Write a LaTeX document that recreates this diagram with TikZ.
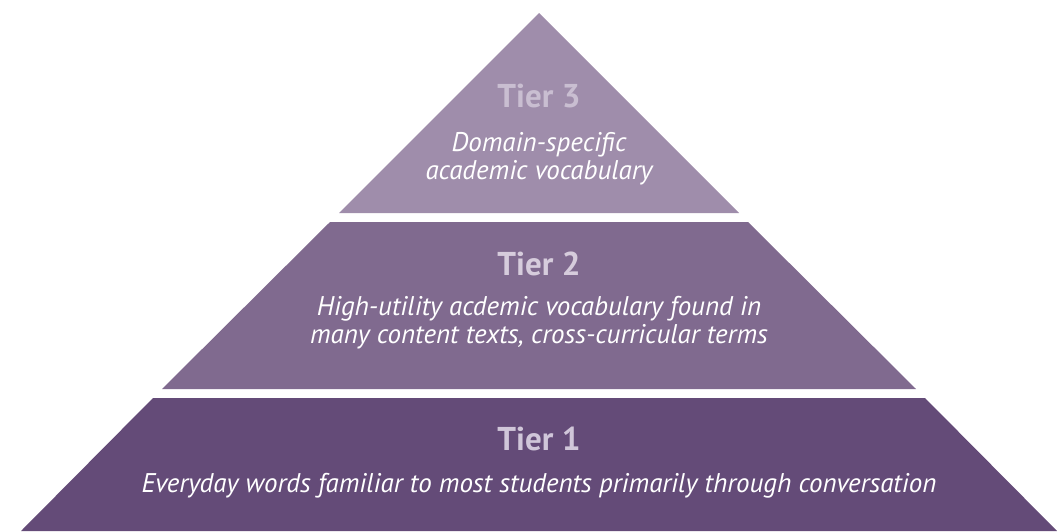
\documentclass[tikz,border=0pt]{standalone}
\usepackage{fontspec}
\setmainfont{PT Sans}
\usetikzlibrary{positioning}

\definecolor{tierone}{HTML}{644B78}
\definecolor{tiertwo}{HTML}{806A8F}
\definecolor{tierthree}{HTML}{9F8DAB}
\definecolor{headone}{HTML}{D0C6D9}
\definecolor{headtwo}{HTML}{D6CCDC}
\definecolor{headthree}{HTML}{C9BED1}

\begin{document}
\begin{tikzpicture}[x=1pt, y=-1pt, node distance=22pt,
	head/.style={font=\fontsize{33}{33}\selectfont\bfseries, inner sep=0pt, anchor=base},
	desc/.style={font=\fontsize{27}{28}\selectfont\itshape, text=white, align=center, inner sep=0pt}]

		\useasboundingbox (0,0) rectangle (1057,531);

		% pyramid layers
		\fill[tierthree] (539,13) -- (739,213) -- (339,213) -- cycle;
		\fill[tiertwo] (330,222) -- (748,222) -- (916,389) -- (162,389) -- cycle;
		\fill[tierone] (153,398) -- (925,398) -- (1057,531) -- (21,531) -- cycle;

		\node[head, text=headthree] (t3) at (539,107) {Tier 3};
		\node[desc] (d3) [below=25pt of t3] {Domain-specific\\academic vocabulary};

		\node[head, text=headtwo] (t2) at (539,275) {Tier 2};
		\node[desc] (d2) [below=20pt of t2] {High-utility acdemic vocabulary found in\\many content texts, cross-curricular terms};

		\node[head, text=headone] (t1) at (539,450) {Tier 1};
		\node[desc] (d1) [below=of t1] {Everyday words familiar to most students primarily through conversation};

		\end{tikzpicture}
\end{document}
